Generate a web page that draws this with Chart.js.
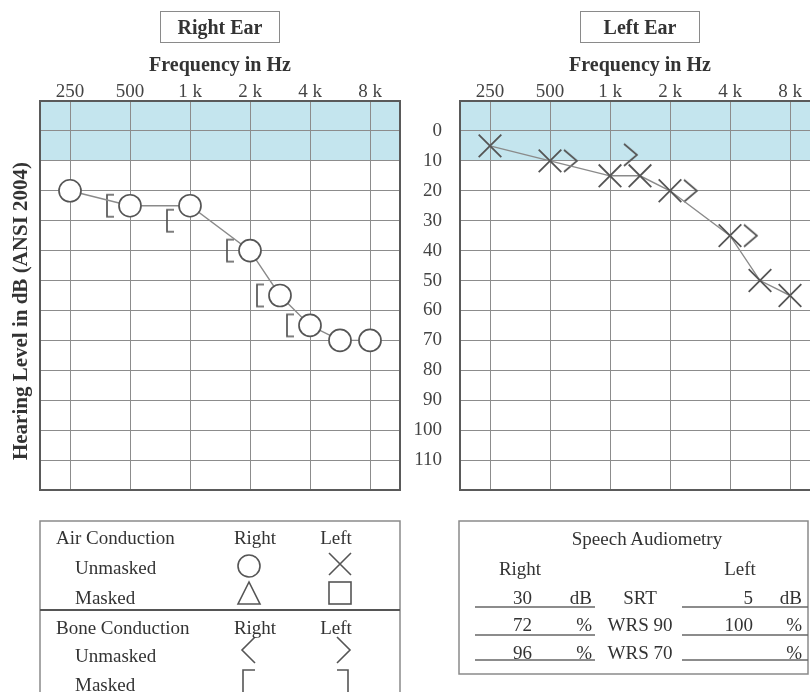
<!DOCTYPE html>
<html>
<head>
<meta charset="utf-8">
<script src="https://cdn.jsdelivr.net/npm/chart.js@4.4.0/dist/chart.umd.min.js"></script>
<style>
body{margin:0;background:#fff}
#page{position:relative;width:810px;height:692px;overflow:hidden;font-family:"Liberation Serif",serif;color:#333}
#page canvas{position:absolute;top:0}
#rightChart{left:0}
#leftChart{left:400px}
.txt{position:absolute;white-space:nowrap;font-size:19px;line-height:1}
.ear{position:absolute;top:11px;width:120px;height:32px;box-sizing:border-box;border:1.5px solid #8a8a8a;font:bold 20px "Liberation Serif",serif;display:flex;align-items:center;justify-content:center}
#ytitle{position:absolute;left:20px;top:311px;transform:translate(-50%,-50%) rotate(-90deg);font:bold 21px "Liberation Serif",serif;white-space:nowrap}
svg{position:absolute;left:0;top:0}
</style>
</head>
<body>
<div id="page">
  <canvas id="rightChart" width="410" height="500"></canvas>
  <canvas id="leftChart" width="430" height="500"></canvas>
  <div class="ear" style="left:160px">Right Ear</div>
  <div class="ear" style="left:580px">Left Ear</div>
  <div id="ytitle">Hearing Level in dB (ANSI 2004)</div>
  <svg id="tables" width="810" height="692"></svg>
</div>
<script>
// audiogram data
var freqTicks=[250,500,1000,2000,4000,8000]
var freqLabels=['250','500','1 k','2 k','4 k','8 k']
var dbTicks=[-10,0,10,20,30,40,50,60,70,80,90,100,110,120]

var rightAirFreq=[250,500,1000,2000,3000,4000,6000,8000]
var rightAirDb=[20,25,25,40,55,65,70,70]
var rightBoneMaskedFreq=[500,1000,2000,3000,4000]
var rightBoneMaskedDb=[25,30,40,55,65]

var leftAirFreq=[250,500,1000,1500,2000,4000,6000,8000]
var leftAirDb=[5,10,15,15,20,35,50,55]
var leftBoneFreq=[500,1000,2000,4000]
var leftBoneDb=[10,8,20,35]

var speechRows=['SRT','WRS 90','WRS 70']
var speechRight=['30','72','96']
var speechLeft=['5','100','']
var speechUnits=['dB','%','%']

// octave columns, mid-octave frequencies sit halfway
function slot(hz){
    var o=Math.floor(Math.log2(hz/250)+1e-9)
    return o+(hz>250*Math.pow(2,o)?0.5:0)
}
function pts(f,d){
    return f.map(function(v,i){return {x:slot(v),y:d[i]}})
}

var ink='#555'
function glyph(draw){
    var c=document.createElement('canvas')
    c.width=60;c.height=30
    var g=c.getContext('2d')
    g.strokeStyle=ink;g.lineWidth=1.7
    g.beginPath();draw(g);g.stroke()
    return c
}
// bone symbols sit beside the frequency line
var bracketRight=glyph(function(g){g.moveTo(14,4);g.lineTo(7,4);g.lineTo(7,26);g.lineTo(14,26)})
var angleLeft=glyph(function(g){g.moveTo(44,4);g.lineTo(57,15);g.lineTo(44,26)})

var bandPlugin={
    id:'band',
    beforeDraw:function(chart){
        var a=chart.chartArea,y=chart.scales.y,ctx=chart.ctx
        ctx.save()
        ctx.fillStyle='#c4e5ee'
        var t=y.getPixelForValue(-10),b=y.getPixelForValue(10)
        ctx.fillRect(a.left,t,a.right-a.left,b-t)
        ctx.restore()
    },
    beforeDatasetsDraw:function(chart){
        var a=chart.chartArea,ctx=chart.ctx
        ctx.save()
        ctx.strokeStyle='#5a5a5a';ctx.lineWidth=2
        ctx.strokeRect(a.left,a.top,a.right-a.left,a.bottom-a.top)
        ctx.restore()
    }
}

function noPad(s){s.paddingTop=0;s.paddingBottom=0;s.paddingLeft=0;s.paddingRight=0}

function makeChart(id,yWidth,showY,datasets){
    return new Chart(document.getElementById(id),{
        type:'line',
        data:{datasets:datasets},
        plugins:[bandPlugin],
        options:{
            responsive:false,
            animation:false,
            events:[],
            layout:{autoPadding:false,padding:{left:0,right:10,top:0,bottom:10}},
            plugins:{legend:{display:false},tooltip:{enabled:false}},
            scales:{
                x:{
                    type:'linear',position:'top',min:-0.5,max:5.5,
                    afterBuildTicks:function(s){s.ticks=freqTicks.map(function(f,i){return {value:i}})},
                    afterFit:function(s){s.height=101;noPad(s)},
                    ticks:{
                        autoSkip:false,maxRotation:0,padding:-1,color:'#444',
                        font:{family:'Liberation Serif',size:19,lineHeight:1},
                        callback:function(v,i){return freqLabels[i]}
                    },
                    grid:{color:'#8c8c8c',lineWidth:1,drawTicks:false},
                    border:{display:false},
                    title:{display:true,text:'Frequency in Hz',color:'#333',
                        font:{family:'Liberation Serif',size:20,weight:'bold'},padding:{top:54,bottom:0}}
                },
                y:{
                    type:'linear',reverse:true,min:-10,max:120,
                    afterBuildTicks:function(s){s.ticks=dbTicks.map(function(v){return {value:v}})},
                    afterFit:function(s){s.width=yWidth;noPad(s)},
                    ticks:{
                        display:showY,padding:18,color:'#444',
                        font:{family:'Liberation Serif',size:19},
                        callback:function(v){return (v>=0&&v<=110)?v:''}
                    },
                    grid:{color:'#8c8c8c',lineWidth:1,drawTicks:false},
                    border:{display:false}
                }
            }
        }
    })
}

makeChart('rightChart',40,false,[
    {label:'Right air',data:pts(rightAirFreq,rightAirDb),borderColor:'#8a8a8a',borderWidth:1.4,
     pointStyle:'circle',pointRadius:11,pointBorderWidth:1.7,pointBorderColor:ink,pointBackgroundColor:'#fff',clip:false},
    {label:'Right bone masked',data:pts(rightBoneMaskedFreq,rightBoneMaskedDb),showLine:false,
     pointStyle:bracketRight,pointRadius:11,clip:false}
])
makeChart('leftChart',60,true,[
    {label:'Left air',data:pts(leftAirFreq,leftAirDb),borderColor:'#8a8a8a',borderWidth:1.4,
     pointStyle:'crossRot',pointRadius:16,pointBorderWidth:1.8,pointBorderColor:ink,pointBackgroundColor:'#fff',clip:false},
    {label:'Left bone',data:pts(leftBoneFreq,leftBoneDb),showLine:false,
     pointStyle:angleLeft,pointRadius:11,clip:false}
])

// symbol key and speech audiometry boxes
var page=document.getElementById('page')
function put(text,x,y,align){
    var d=document.createElement('div')
    d.className='txt'
    d.textContent=text
    d.style.left=x+'px';d.style.top=y+'px'
    var tx=align==='center'?'-50%':align==='right'?'-100%':'0'
    d.style.transform='translate('+tx+',-50%)'
    page.appendChild(d)
}
var svg=document.getElementById('tables')
var shapes=''
function sh(s){shapes+=s}
var st='fill="none" stroke="'+ink+'" stroke-width="1.6"'
sh('<rect x="40" y="521" width="360" height="220" fill="none" stroke="#8a8a8a" stroke-width="1.5"/>')
sh('<line x1="40" y1="610" x2="400" y2="610" stroke="#555" stroke-width="2"/>')
sh('<circle cx="249" cy="566" r="11" '+st+'/>')
sh('<path d="M329 553L351 575M351 553L329 575" '+st+'/>')
sh('<path d="M249 582L238 604L260 604Z" '+st+'/>')
sh('<rect x="329" y="582" width="22" height="22" '+st+'/>')
sh('<path d="M255 637L242 650L255 663" '+st+'/>')
sh('<path d="M337 637L350 650L337 663" '+st+'/>')
sh('<path d="M255 670L243 670L243 700" '+st+'/>')
sh('<path d="M337 670L348 670L348 700" '+st+'/>')
sh('<rect x="459" y="521" width="349" height="153" fill="none" stroke="#8a8a8a" stroke-width="1.5"/>')
var rowY=[597,624,652],lineY=[607,635,660]
lineY.forEach(function(y){
    sh('<line x1="475" y1="'+y+'" x2="595" y2="'+y+'" stroke="#666" stroke-width="1.5"/>')
    sh('<line x1="682" y1="'+y+'" x2="808" y2="'+y+'" stroke="#666" stroke-width="1.5"/>')
})
svg.innerHTML=shapes

put('Air Conduction',56,537,'left')
put('Right',255,537,'center')
put('Left',336,537,'center')
put('Unmasked',75,567,'left')
put('Masked',75,597,'left')
put('Bone Conduction',56,627,'left')
put('Right',255,627,'center')
put('Left',336,627,'center')
put('Unmasked',75,655,'left')
put('Masked',75,684,'left')

put('Speech Audiometry',647,538,'center')
put('Right',520,568,'center')
put('Left',740,568,'center')
speechRows.forEach(function(r,i){
    put(speechRight[i],532,rowY[i],'right')
    put(speechUnits[i],592,rowY[i],'right')
    put(r,640,rowY[i],'center')
    put(speechLeft[i],753,rowY[i],'right')
    put(speechUnits[i],802,rowY[i],'right')
})
</script>
</body>
</html>
